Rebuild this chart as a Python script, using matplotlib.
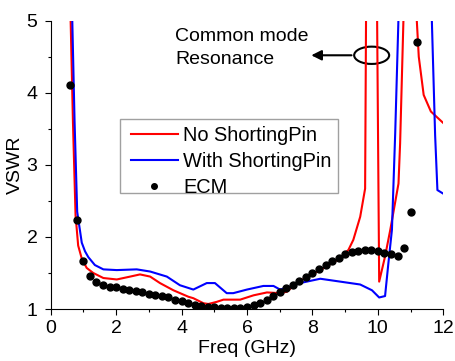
import matplotlib
matplotlib.use("Agg")
import matplotlib.pyplot as plt
from matplotlib.patches import Ellipse, Rectangle

plt.rcParams["font.family"] = ["Liberation Sans", "DejaVu Sans"]
plt.rcParams["font.size"] = 14

# No ShortingPin (values above 5 run off the top of the axes)
red_x = [0.55, 0.61, 0.68, 0.76, 0.84, 0.95, 1.10, 1.30, 1.61, 2.02, 2.43, 2.73, 3.04,
         3.34, 3.75, 4.21, 4.36, 4.67, 4.82, 5.08, 5.28, 5.79, 6.20, 6.61, 7.01, 7.22,
         7.52, 7.93, 8.24, 8.80, 9.10, 9.25, 9.46, 9.61, 9.65, 9.96, 10.04, 10.22, 10.38,
         10.63, 10.68, 10.84, 11.14, 11.19, 11.25, 11.40, 11.62, 12.0]
red_y = [6.5, 5.0, 3.6, 2.30, 1.88, 1.70, 1.57, 1.50, 1.43, 1.41, 1.45, 1.48, 1.45,
         1.36, 1.26, 1.17, 1.15, 1.08, 1.07, 1.10, 1.13, 1.13, 1.19, 1.23, 1.22, 1.24,
         1.36, 1.47, 1.54, 1.69, 1.82, 1.96, 2.28, 2.67, 6.0, 6.0, 1.38, 1.73, 2.10,
         2.74, 3.30, 6.0, 6.0, 5.0, 4.5, 3.97, 3.74, 3.58]

# With ShortingPin
blue_x = [0.60, 0.66, 0.73, 0.81, 0.95, 1.05, 1.15, 1.35, 1.61, 2.02, 2.63, 3.04, 3.55,
          3.95, 4.36, 4.77, 5.02, 5.38, 5.58, 6.00, 6.50, 6.81, 7.01, 7.32, 7.62, 7.93,
          8.24, 8.85, 9.46, 9.82, 10.04, 10.22, 10.32, 10.43, 10.53, 10.69, 11.59,
          11.65, 11.75, 11.82, 12.0]
blue_y = [6.3, 5.0, 3.6, 2.35, 1.92, 1.80, 1.72, 1.61, 1.55, 1.54, 1.55, 1.52, 1.45,
          1.33, 1.27, 1.36, 1.36, 1.22, 1.22, 1.27, 1.32, 1.32, 1.27, 1.31, 1.36, 1.39,
          1.42, 1.38, 1.34, 1.26, 1.16, 1.18, 1.63, 2.10, 3.44, 6.0, 6.0,
          5.0, 3.41, 2.65, 2.60]

# ECM
ecm_x = [0.6, 0.8, 1.0, 1.2, 1.4, 1.6, 1.8, 2.0, 2.2, 2.4, 2.6, 2.8, 3.0, 3.2, 3.4,
         3.6, 3.8, 4.0, 4.2, 4.4, 4.6, 4.8, 5.0, 5.2, 5.4, 5.6, 5.8, 6.0, 6.2, 6.4,
         6.6, 6.8, 7.0, 7.2, 7.4, 7.6, 7.8, 8.0, 8.2, 8.4, 8.6, 8.8, 9.0, 9.2, 9.4,
         9.6, 9.8, 10.0, 10.2, 10.4, 10.6, 10.8, 11.0, 11.2]
ecm_y = [4.11, 2.24, 1.67, 1.46, 1.38, 1.34, 1.31, 1.30, 1.28, 1.26, 1.245, 1.23, 1.21,
         1.19, 1.18, 1.16, 1.13, 1.11, 1.085, 1.055, 1.04, 1.03, 1.03, 1.02, 1.02, 1.02,
         1.02, 1.03, 1.055, 1.09, 1.13, 1.18, 1.24, 1.29, 1.34, 1.39, 1.44, 1.50, 1.55,
         1.61, 1.66, 1.71, 1.76, 1.79, 1.80, 1.82, 1.82, 1.81, 1.78, 1.76, 1.74, 1.84,
         2.35, 4.70]

fig = plt.figure(figsize=(4.55, 3.61), dpi=100)
ax = fig.add_axes([0.1114, 0.144, 0.8629, 0.7987])

ax.plot(red_x, red_y, color="#ff0000", lw=1.5, label="No ShortingPin")
ax.plot(blue_x, blue_y, color="#0000ff", lw=1.5, label="With ShortingPin")
ax.plot(ecm_x, ecm_y, "o", color="black", ms=5, label="ECM")

ax.set_xlim(0, 12)
ax.set_ylim(1, 5)
ax.set_xticks([0, 2, 4, 6, 8, 10, 12])
ax.set_xticks([1, 3, 5, 7, 9, 11], minor=True)
ax.set_yticks([1, 2, 3, 4, 5])
ax.set_yticks([1.5, 2.5, 3.5, 4.5], minor=True)
ax.tick_params(which="major", length=4, width=0.8, direction="out")
ax.tick_params(which="minor", length=2.5, width=0.8, direction="out")
ax.tick_params(axis="y", pad=5.5)
ax.tick_params(axis="x", pad=4)
for s in ("top", "right"):
    ax.spines[s].set_visible(False)

ax.set_xlabel("Freq (GHz)", labelpad=2)
ax.set_ylabel("VSWR", labelpad=2)

ax.add_patch(Ellipse((9.81, 4.52), 1.07, 0.24, fill=False, lw=1.5, ec="black", clip_on=False))
ax.annotate("", xy=(7.88, 4.52), xytext=(9.28, 4.52),
            arrowprops=dict(arrowstyle="-|>", color="black", lw=1.5, mutation_scale=15))
ax.text(3.8, 4.62, "Common mode\nResonance", ha="left", va="center", linespacing=1.4)

# legend: frame drawn separately so the padding matches the original
ax.add_patch(Rectangle((0.1765, 0.4034), 0.556, 0.2557, transform=ax.transAxes,
                       fill=True, fc="white", ec="#a0a0a0", lw=1.0, zorder=4))
leg = ax.legend(loc="upper left", bbox_to_anchor=(0.2038, 0.635), borderaxespad=0,
                frameon=False, handlelength=2.37, handletextpad=0.25,
                labelspacing=0.36, borderpad=0, markerscale=0.8, fontsize=14.4)
leg.set_zorder(5)

fig.savefig("out.png", dpi=100)
